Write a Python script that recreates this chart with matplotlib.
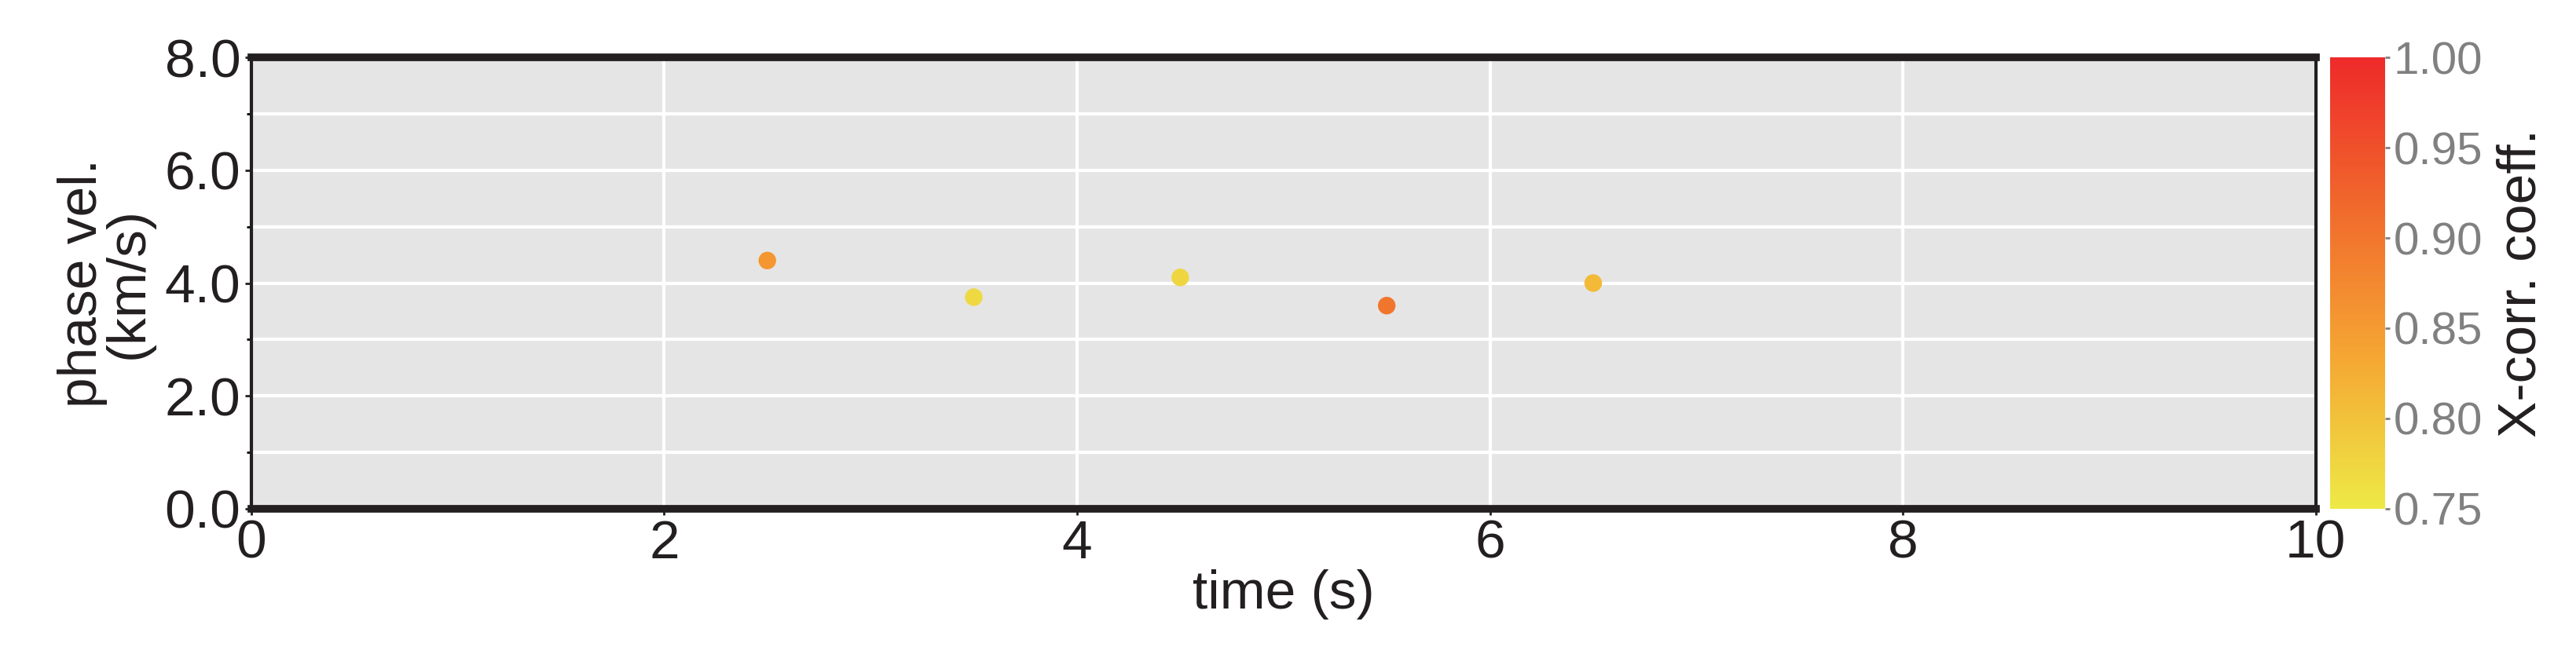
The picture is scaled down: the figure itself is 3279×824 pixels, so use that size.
import matplotlib
matplotlib.use('Agg')
import matplotlib.pyplot as plt
from matplotlib.colors import LinearSegmentedColormap, Normalize
from matplotlib.cm import ScalarMappable

plt.rcParams['font.family'] = ['Liberation Sans', 'DejaVu Sans']

times = [2.5, 3.5, 4.5, 5.5, 6.5]
phase_vel = [4.4, 3.75, 4.1, 3.6, 4.0]
xcorr = [0.855, 0.77, 0.775, 0.90, 0.81]

cmap = LinearSegmentedColormap.from_list('yor', ['#ede946', '#f5a733', '#f06a2c', '#ee2a2a'])
norm = Normalize(0.75, 1.0)

fig = plt.figure(figsize=(32.79, 8.24), dpi=100)
ax = fig.add_axes([0.0975, 0.214, 0.8015, 0.697])
ax.set_facecolor('#e5e5e5')
ax.scatter(times, phase_vel, c=xcorr, cmap=cmap, norm=norm, s=260, zorder=3, edgecolors='none')

ax.set_xlim(0, 10)
ax.set_ylim(0, 8)
ax.set_xticks([0, 2, 4, 6, 8, 10])
ax.set_yticks([0, 2, 4, 6, 8])
ax.set_yticklabels(['0.0', '2.0', '4.0', '6.0', '8.0'])
ax.set_yticks([1, 3, 5, 7], minor=True)
ax.grid(True, which='both', color='white', lw=3)
ax.set_axisbelow(True)
for s in ['top', 'bottom']:
    ax.spines[s].set_linewidth(7)
for s in ['left', 'right']:
    ax.spines[s].set_linewidth(3)
for s in ax.spines.values():
    s.set_color('#231f20')
ax.tick_params(labelsize=50, colors='#231f20', length=6, width=2)
ax.tick_params(which='minor', length=4, width=2)
ax.set_xlabel('time (s)', fontsize=50, color='#231f20', labelpad=0)
ax.set_ylabel('phase vel.\n(km/s)', fontsize=50, color='#231f20', linespacing=0.9, labelpad=10)

cax = fig.add_axes([0.9045, 0.214, 0.0215, 0.697])
cb = fig.colorbar(ScalarMappable(norm=norm, cmap=cmap), cax=cax)
cb.set_ticks([0.75, 0.80, 0.85, 0.90, 0.95, 1.00])
cb.ax.set_yticklabels(['0.75', '0.80', '0.85', '0.90', '0.95', '1.00'])
cb.outline.set_visible(False)
cb.ax.tick_params(labelsize=42, colors='#808080', length=4, width=2)
cb.set_label('X-corr. coeff.', fontsize=50, color='#231f20', labelpad=12)

fig.savefig('out.png', dpi=100)
